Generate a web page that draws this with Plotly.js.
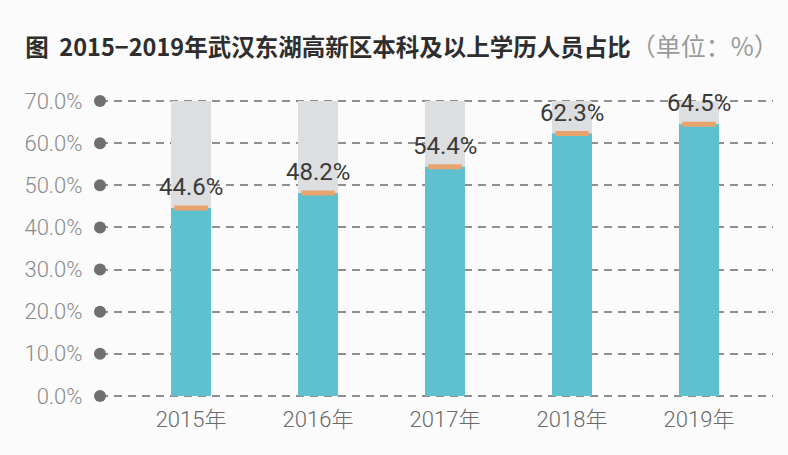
<!DOCTYPE html>
<html>
<head>
<meta charset="utf-8">
<script src="https://cdn.plot.ly/plotly-3.0.1.min.js"></script>
<style>
  html, body { margin: 0; padding: 0; background: #fbfbfb; }
  #chart { width: 788px; height: 455px; }
</style>
</head>
<body>
<div id="chart"></div>
<script>
// data
const years = ['2015年', '2016年', '2017年', '2018年', '2019年'];
const shares = [44.6, 48.2, 54.4, 62.3, 64.5];
const ceiling = [70, 70, 70, 70, 70];
const yTicks = [0, 10, 20, 30, 40, 50, 60, 70];

const xRange = [-0.717, 4.583];
const cjkFont = '"Noto Sans CJK SC", "Noto Sans", sans-serif';
const numFont = 'Roboto, "Noto Sans CJK SC", sans-serif';
const lightFont = '"Roboto Light", Roboto, "Noto Sans CJK SC", sans-serif';

const data = [
  // grey background column up to 70%
  {
    type: 'bar',
    x: years,
    y: ceiling,
    width: 0.315,
    marker: { color: '#dcdee0' },
    hoverinfo: 'skip'
  },
  // teal value column
  {
    type: 'bar',
    x: years,
    y: shares,
    width: 0.315,
    marker: { color: '#5fc0cf' },
    hoverinfo: 'skip'
  },
  // orange cap on top of each column
  {
    type: 'scatter',
    mode: 'markers',
    x: years,
    y: shares,
    marker: {
      symbol: 'line-ew',
      size: 24,
      line: { color: '#e9a36c', width: 5 }
    },
    hoverinfo: 'skip'
  },
  // grey dots at the start of every gridline
  {
    type: 'scatter',
    mode: 'markers',
    x: yTicks.map(() => xRange[0]),
    y: yTicks,
    xaxis: 'x2',
    marker: { color: '#6f6f6f', size: 12 },
    cliponaxis: false,
    hoverinfo: 'skip'
  }
];

const annotations = years.map((yr, i) => ({
  x: yr,
  y: shares[i],
  text: shares[i].toFixed(1) + '%',
  showarrow: false,
  yanchor: 'bottom',
  yshift: 5,
  font: { family: numFont, size: 24, color: '#3a3a3a' }
}));

const layout = {
  width: 788,
  height: 455,
  paper_bgcolor: '#fbfbfb',
  plot_bgcolor: 'rgba(0,0,0,0)',
  showlegend: false,
  barmode: 'overlay',
  margin: { l: 100, r: 15, t: 99, b: 57 },
  title: {
    text: '<b>图  2015−2019年武汉东湖高新区本科及以上学历人员占比</b><span style="color:#9a9a9a;font-size:25px">（单位：%）</span>',
    font: { family: cjkFont, size: 23.5, color: '#2e2e2e' },
    x: 0.032,
    xanchor: 'left',
    y: 0.895,
    yanchor: 'middle'
  },
  xaxis: {
    type: 'category',
    range: xRange,
    showgrid: false,
    zeroline: false,
    showline: false,
    ticks: 'outside',
    ticklen: 2,
    tickcolor: 'rgba(0,0,0,0)',
    tickfont: { family: lightFont, size: 22, weight: 300, color: '#6a6a6a' }
  },
  xaxis2: {
    overlaying: 'x',
    range: xRange,
    visible: false
  },
  yaxis: {
    range: [-0.5, 70.5],
    tickvals: yTicks,
    ticktext: yTicks.map(v => v.toFixed(1) + '%'),
    showgrid: true,
    gridcolor: '#8f8f8f',
    gridwidth: 2,
    griddash: '8px,6px',
    zeroline: false,
    showline: false,
    ticks: 'outside',
    ticklen: 12,
    tickcolor: 'rgba(0,0,0,0)',
    tickfont: { family: lightFont, size: 22, weight: 300, color: '#8a8a8a' }
  },
  annotations: annotations
};

Plotly.newPlot('chart', data, layout, { displayModeBar: false, staticPlot: true });
</script>
</body>
</html>
